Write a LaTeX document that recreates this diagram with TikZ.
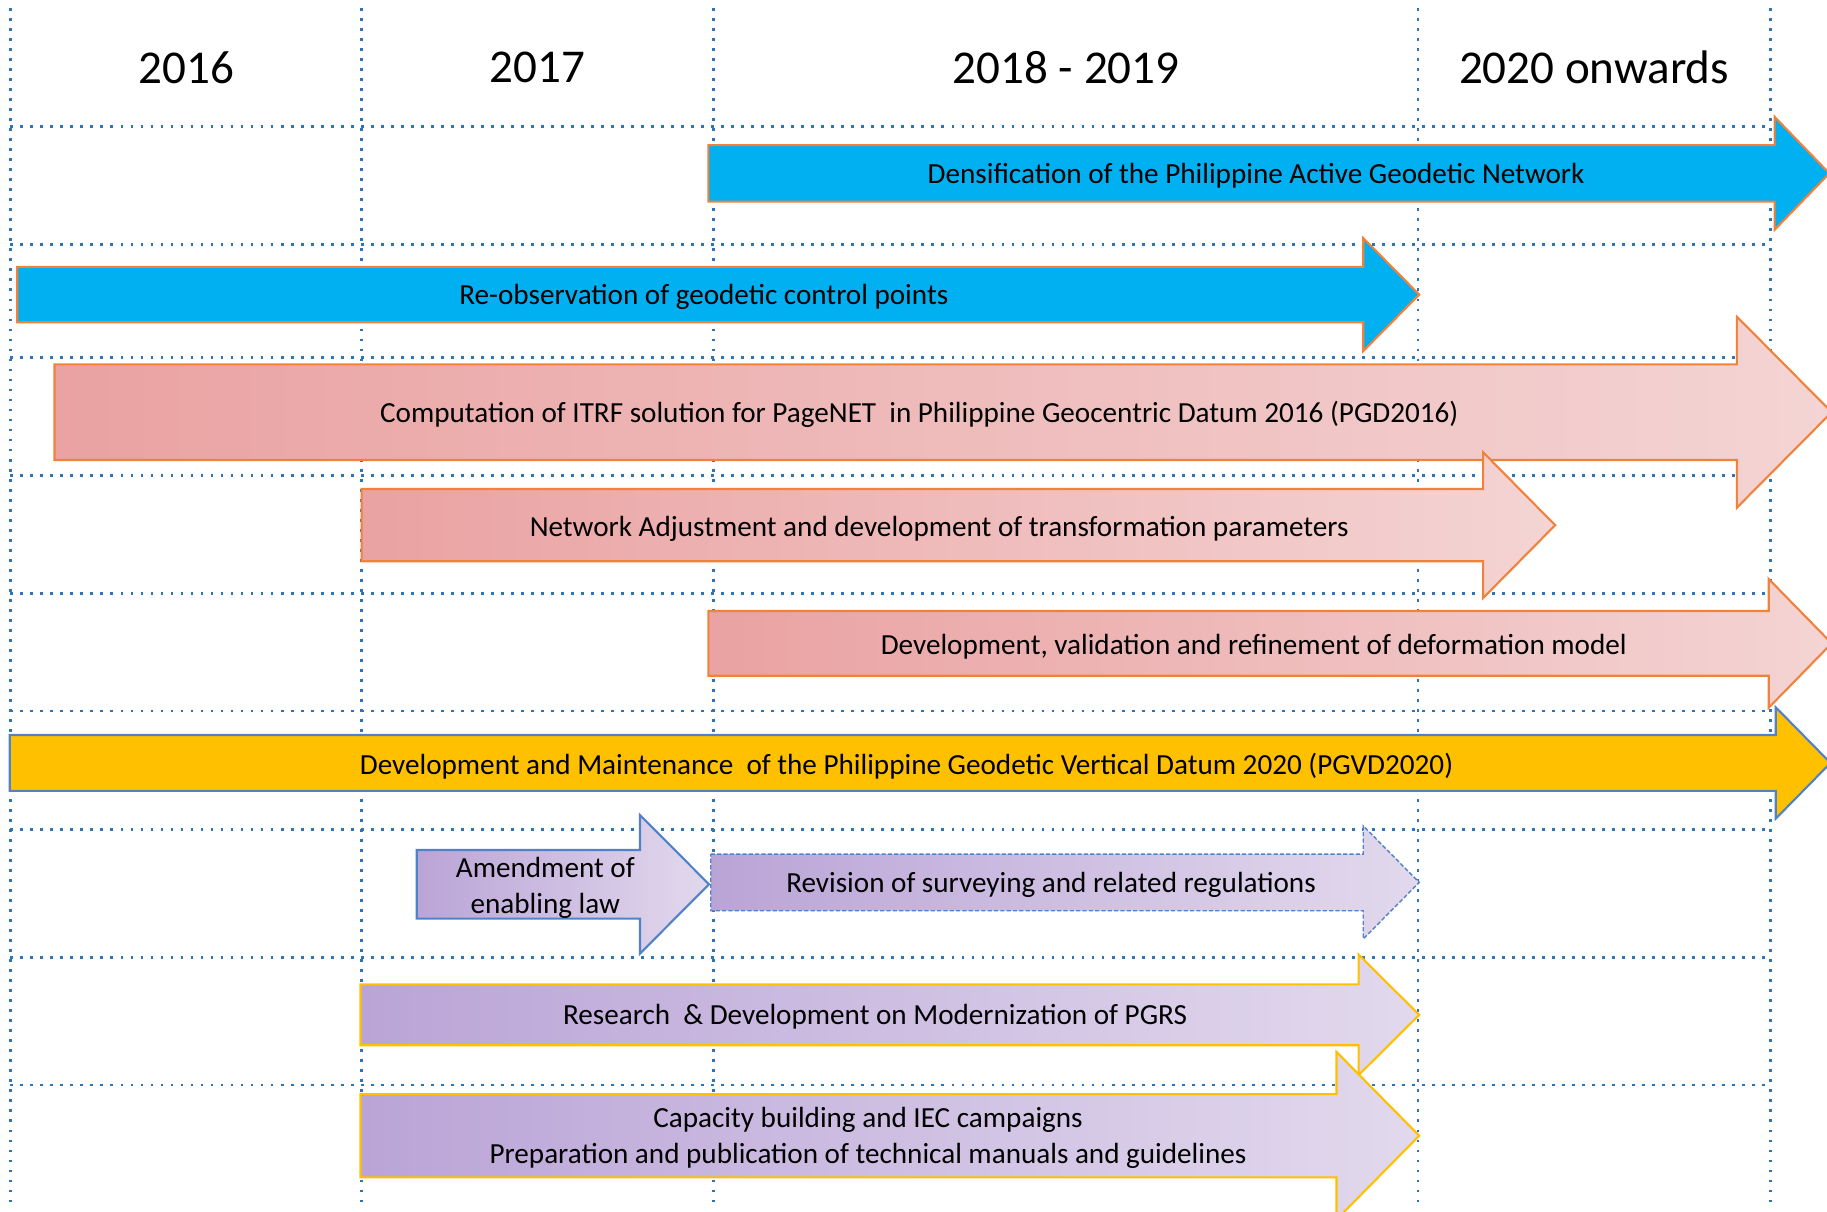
\documentclass[tikz,border=0pt]{standalone}
\usepackage{fontspec}
\setmainfont{Carlito}
\definecolor{gridblue}{RGB}{46,117,182}
\definecolor{skyblue}{RGB}{0,176,240}
\definecolor{edgeorange}{RGB}{240,130,60}
\definecolor{goldyellow}{RGB}{255,192,0}
\definecolor{edgeblue}{RGB}{80,130,200}
\definecolor{pinkdark}{RGB}{234,162,162}
\definecolor{pinklight}{RGB}{244,212,212}
\definecolor{purpdark}{RGB}{186,164,215}
\definecolor{purplight}{RGB}{226,217,237}
\newcommand\tlarrow[7]{%
  \path[#1] (#2,#3) -- (#5,#3) -- (#5,{(#3+#4)/2-#6}) -- (#7,{(#3+#4)/2})
    -- (#5,{(#3+#4)/2+#6}) -- (#5,#4) -- (#2,#4) -- cycle;}
\tikzset{
  gridline/.style={draw=gridblue, line width=0.8pt, dash pattern=on 0.8pt off 2.05pt},
  yearlbl/.style={font=\fontsize{13.4}{16}\selectfont, inner sep=0pt},
  barlbl/.style={font=\fontsize{8.3}{10.2}\selectfont, inner sep=0pt, align=center, yshift=-0.6pt},
  bluebar/.style={fill=skyblue, draw=edgeorange, line width=0.6pt},
  pinkbar/.style={left color=pinkdark, right color=pinklight, draw=edgeorange, line width=0.6pt},
  yellowbar/.style={fill=goldyellow, draw=edgeblue, line width=0.6pt},
  purpbluebar/.style={left color=purpdark, right color=purplight, draw=edgeblue, line width=0.6pt},
  purpdashbar/.style={left color=purpdark, right color=purplight, draw=edgeblue, line width=0.4pt, dash pattern=on 1.2pt off 0.6pt},
  purpgoldbar/.style={left color=purpdark, right color=purplight, draw=goldyellow, line width=0.6pt},
}
\begin{document}
\begin{tikzpicture}[x=0.011652cm, y=-0.011652cm]
\useasboundingbox (0,0) rectangle (1568,1040);
\clip (0,0) rectangle (1568,1040);
% grid
\foreach \gx in {8.9,310.4,612.4,1217,1519.5}
  \draw[gridline] (\gx,7) -- (\gx,1036);
\foreach \gy in {108.7,209.7,306.6,408.2,509.2,610.2,711.7,821.6,931.2}
  \draw[gridline] (8.9,\gy) -- (1519.5,\gy);
% years
\node[yearlbl] (y2016) at (160,58) {2016};
\node[yearlbl] (y2017) at (461,58) {2017};
\node[yearlbl] (y2018) at (915,58) {2018 - 2019};
\node[yearlbl] (y2020) at (1368,58) {2020 onwards};
% arrows
\tlarrow{bluebar}{608}{124.5}{173}{1523}{48.5}{1570}
\tlarrow{bluebar}{14.8}{229}{276.6}{1170}{48.5}{1218}
\tlarrow{pinkbar}{46.8}{312.7}{394.8}{1490.6}{82}{1572}
\tlarrow{pinkbar}{310.4}{419.7}{481.7}{1272.8}{62.6}{1334.7}
\tlarrow{pinkbar}{608}{524.4}{579.9}{1518}{55.2}{1572}
\tlarrow{yellowbar}{8.4}{630.8}{678.8}{1524}{47.8}{1571}
\tlarrow{purpbluebar}{357.7}{729.5}{788.4}{549.3}{59.4}{608.5}
\tlarrow{purpdashbar}{610}{733}{781.6}{1170}{48.5}{1218}
\tlarrow{purpgoldbar}{309.4}{844.8}{897.1}{1166}{51.7}{1218}
\tlarrow{purpgoldbar}{309.4}{939}{1010.4}{1147}{72}{1218}
% labels
\node[barlbl] (a1) at (1078,149) {Densification of the Philippine Active Geodetic Network};
\node[barlbl] (a2) at (604,253) {Re-observation of geodetic control points};
\node[barlbl] (a3) at (789,354) {Computation of ITRF solution for PageNET\ \ in Philippine Geocentric Datum 2016 (PGD2016)};
\node[barlbl] (a4) at (806,452) {Network Adjustment and development of transformation parameters};
\node[barlbl] (a5) at (1076,553) {Development, validation and refinement of deformation model};
\node[barlbl] (a6) at (778,656) {Development and Maintenance\ \ of the Philippine Geodetic Vertical Datum 2020 (PGVD2020)};
\node[barlbl] (a7) at (468,760) {Amendment of\\enabling law};
\node[barlbl] (a8) at (902,758) {Revision of surveying and related regulations};
\node[barlbl] (a9) at (751,871) {Research\ \ \& Development on Modernization of PGRS};
\node[barlbl] (a10) at (745,975) {Capacity building and IEC campaigns\\Preparation and publication of technical manuals and guidelines};
\end{tikzpicture}
\end{document}
